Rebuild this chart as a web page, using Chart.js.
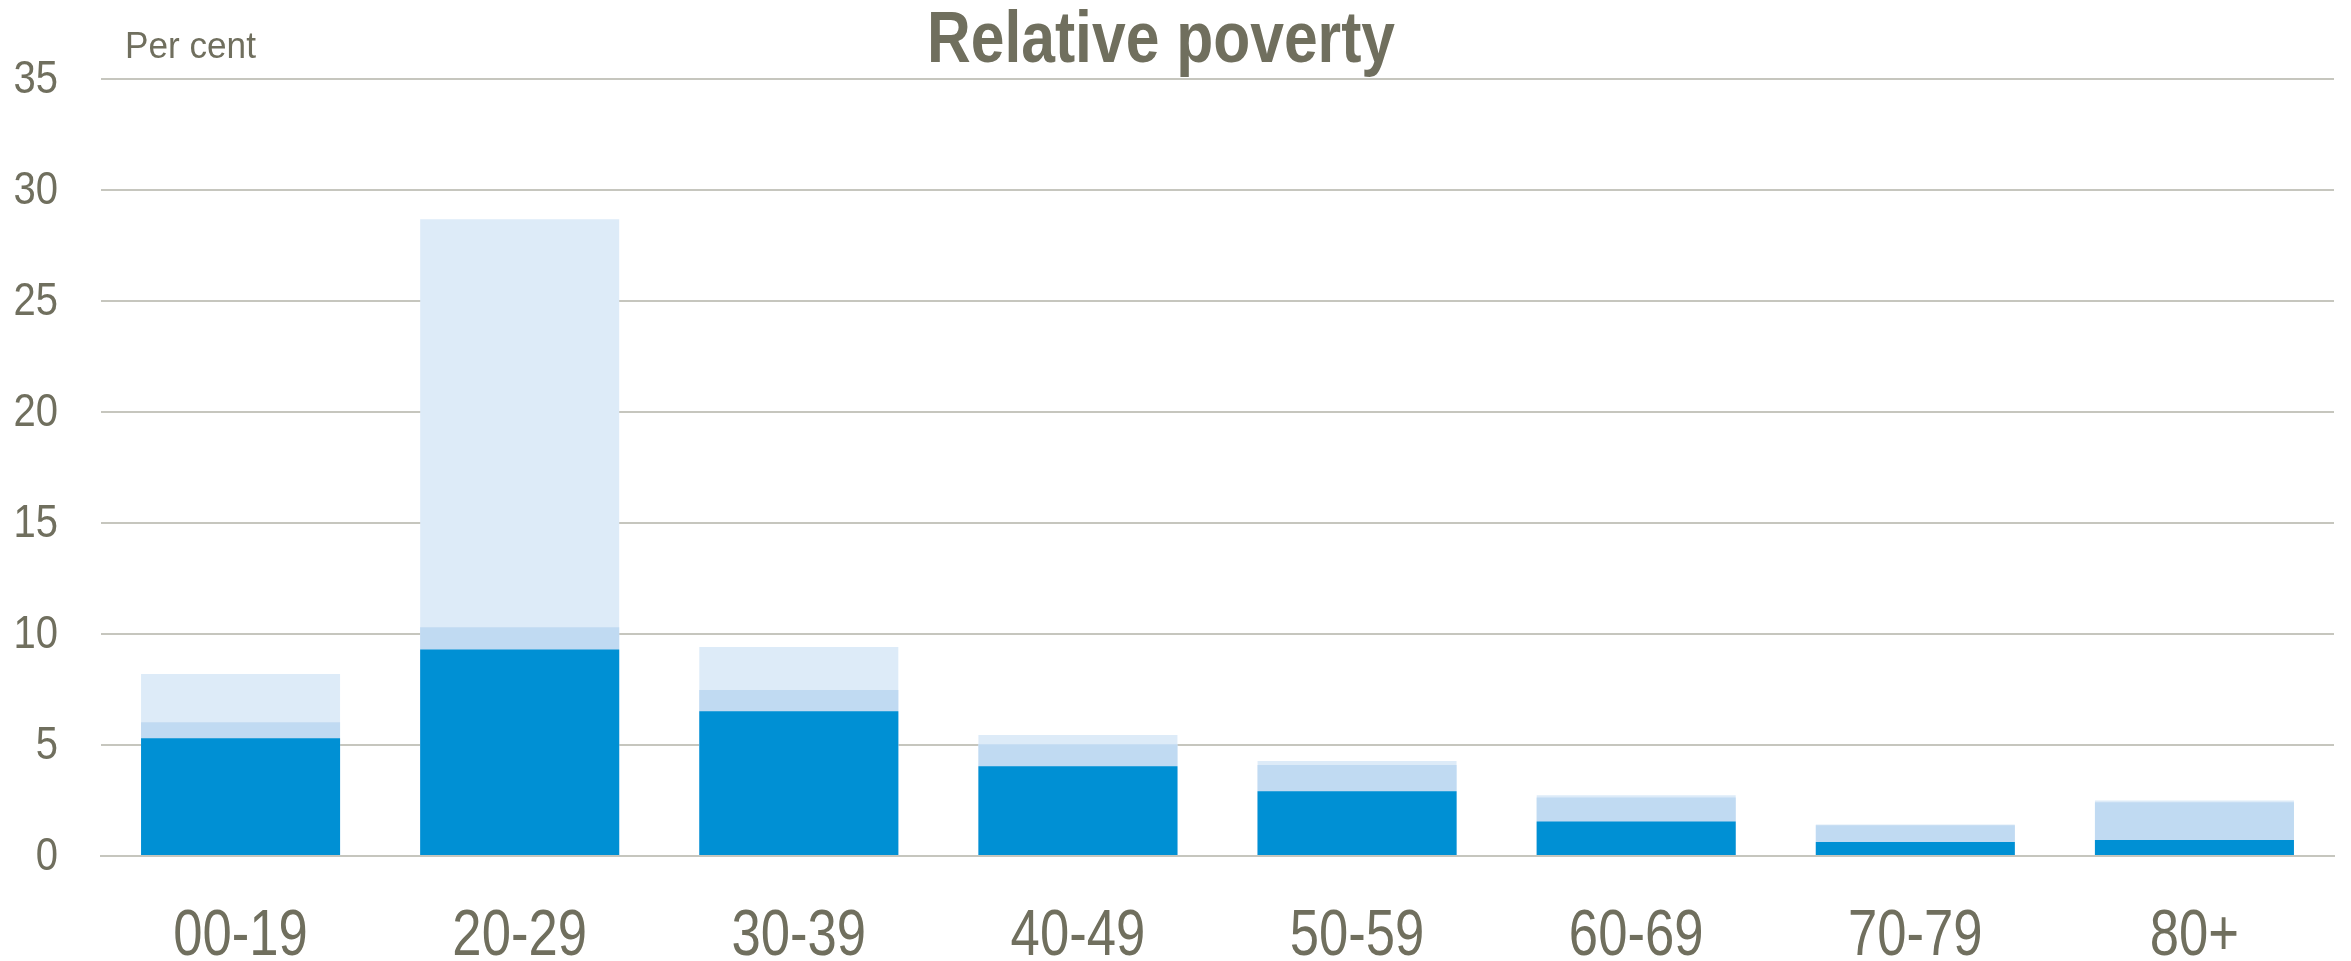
<!DOCTYPE html>
<html>
<head>
<meta charset="utf-8">
<title>Relative poverty</title>
<script src="https://cdn.jsdelivr.net/npm/chart.js@4/dist/chart.umd.min.js"></script>
<style>
    html, body { margin: 0; padding: 0; background: #ffffff; }
    #wrap { width: 2351px; height: 961px; }
</style>
</head>
<body>
<div id="wrap"><canvas id="poverty-chart" width="2351" height="961"></canvas></div>
<script>
// Age groups along the x axis
const ageGroups = ["00-19", "20-29", "30-39", "40-49", "50-59", "60-69", "70-79", "80+"];

// Three overlapping measures, per cent (drawn front to back)
const valuesLow  = [5.30, 9.30, 6.52, 4.04, 2.92, 1.55, 0.63, 0.72];
const valuesMid  = [6.02, 10.30, 7.48, 5.03, 4.10, 2.63, 1.39, 2.42];
const valuesHigh = [8.20, 28.68, 9.42, 5.45, 4.28, 2.74, 1.42, 2.50];

const yTicks = [0, 5, 10, 15, 20, 25, 30, 35];

const textColor = "#706f5e";
const gridColor = "#c6c6be";
const fontFamily = "'Liberation Sans', Arial, sans-serif";

// No narrow face is installed, so squeeze the regular one horizontally
function narrowText(ctx, text, x, y, font, align, sx) {
    ctx.save();
    ctx.translate(x, y);
    ctx.scale(sx, 1);
    ctx.font = font;
    ctx.textAlign = align;
    ctx.textBaseline = "alphabetic";
    ctx.fillStyle = textColor;
    ctx.fillText(text, 0, 0);
    ctx.restore();
}

// Title, unit label and tick labels
const labelText = {
    id: "labelText",
    afterDraw(chart) {
        const ctx = chart.ctx;
        const xs = chart.scales.x;
        const ys = chart.scales.y;

        narrowText(ctx, "Relative poverty", 1161, 62, "bold 73px " + fontFamily, "center", 0.83);
        narrowText(ctx, "Per cent", 125, 58, "37px " + fontFamily, "left", 0.95);

        yTicks.forEach(v => {
            narrowText(ctx, String(v), 58, ys.getPixelForValue(v) + 14, "46px " + fontFamily, "right", 0.87);
        });
        ageGroups.forEach((g, i) => {
            narrowText(ctx, g, xs.getPixelForValue(i), 955, "65px " + fontFamily, "center", 0.81);
        });
    }
};

const bar = { grouped: false, categoryPercentage: 1.0, barPercentage: 0.713, borderWidth: 0 };

new Chart(document.getElementById("poverty-chart"), {
    type: "bar",
    data: {
        labels: ageGroups,
        datasets: [
            Object.assign({ label: "Low", data: valuesLow, backgroundColor: "#0090d4" }, bar),
            Object.assign({ label: "Mid", data: valuesMid, backgroundColor: "#c0daf2" }, bar),
            Object.assign({ label: "High", data: valuesHigh, backgroundColor: "#ddebf8" }, bar)
        ]
    },
    options: {
        responsive: false,
        animation: false,
        layout: { padding: { top: 79, right: 17, left: 0, bottom: 0 } },
        plugins: {
            legend: { display: false },
            title: { display: false },
            tooltip: { enabled: false }
        },
        scales: {
            x: {
                grid: { display: false, drawTicks: false },
                border: { display: true, color: gridColor, width: 2 },
                ticks: { display: false },
                afterFit(scale) { scale.height = 105; }
            },
            y: {
                min: 0,
                max: 35,
                afterBuildTicks(scale) { scale.ticks = yTicks.map(v => ({ value: v })); },
                grid: { color: gridColor, lineWidth: 2, drawTicks: false },
                border: { display: false },
                ticks: { display: false },
                afterFit(scale) { scale.width = 101; }
            }
        }
    },
    plugins: [labelText]
});
</script>
</body>
</html>
